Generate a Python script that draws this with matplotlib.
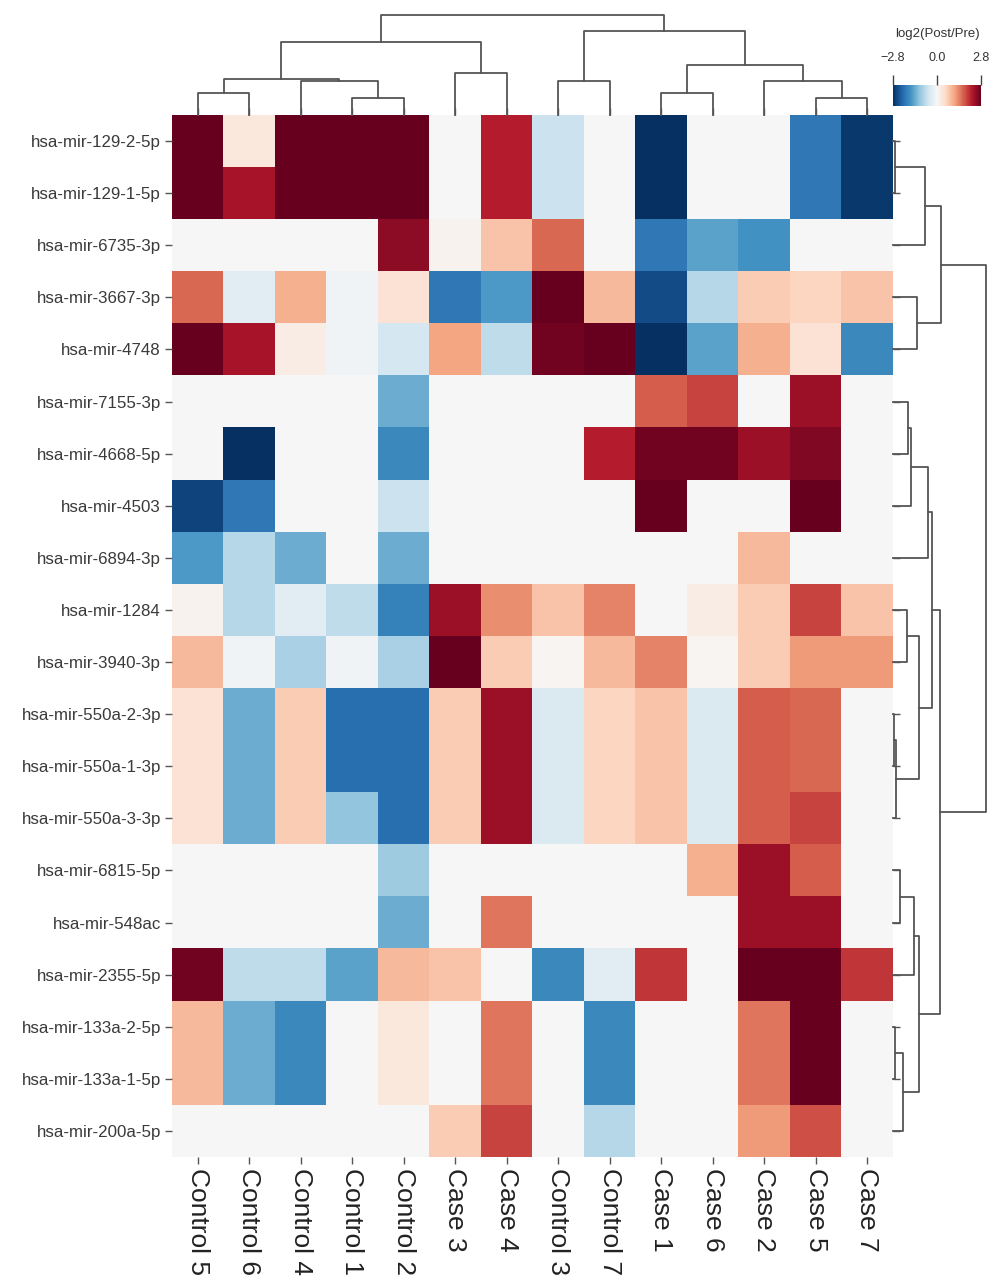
import numpy as np
import matplotlib
matplotlib.use('Agg')
import matplotlib.pyplot as plt

plt.rcParams['font.family'] = ['Liberation Sans', 'DejaVu Sans']

# columns / rows already in clustered order
samples = ['Control 5', 'Control 6', 'Control 4', 'Control 1', 'Control 2',
           'Case 3', 'Case 4', 'Control 3', 'Control 7', 'Case 1', 'Case 6',
           'Case 2', 'Case 5', 'Case 7']

mirnas = ['hsa-mir-129-2-5p', 'hsa-mir-129-1-5p', 'hsa-mir-6735-3p',
          'hsa-mir-3667-3p', 'hsa-mir-4748', 'hsa-mir-7155-3p',
          'hsa-mir-4668-5p', 'hsa-mir-4503', 'hsa-mir-6894-3p', 'hsa-mir-1284',
          'hsa-mir-3940-3p', 'hsa-mir-550a-2-3p', 'hsa-mir-550a-1-3p',
          'hsa-mir-550a-3-3p', 'hsa-mir-6815-5p', 'hsa-mir-548ac',
          'hsa-mir-2355-5p', 'hsa-mir-133a-2-5p', 'hsa-mir-133a-1-5p',
          'hsa-mir-200a-5p']

log2fc = np.array([
    [2.8, 0.3, 2.8, 2.8, 2.8, 0, 2.2, -0.6, 0, -2.8, 0, 0, -2.0, -2.7],
    [2.8, 2.3, 2.8, 2.8, 2.8, 0, 2.2, -0.6, 0, -2.8, 0, 0, -2.0, -2.7],
    [0, 0, 0, 0, 2.5, 0.1, 0.8, 1.6, 0, -2.0, -1.5, -1.7, 0, 0],
    [1.6, -0.3, 1.0, -0.1, 0.4, -2.0, -1.6, 2.8, 0.9, -2.5, -0.8, 0.7, 0.6, 0.8],
    [2.8, 2.3, 0.2, -0.1, -0.5, 1.1, -0.7, 2.7, 2.8, -2.8, -1.5, 1.0, 0.4, -1.8],
    [0, 0, 0, 0, -1.4, 0, 0, 0, 0, 1.7, 1.9, 0, 2.4, 0],
    [0, -2.8, 0, 0, -1.8, 0, 0, 0, 2.2, 2.7, 2.7, 2.4, 2.6, 0],
    [-2.6, -2.0, 0, 0, -0.6, 0, 0, 0, 0, 2.8, 0, 0, 2.8, 0],
    [-1.6, -0.8, -1.4, 0, -1.4, 0, 0, 0, 0, 0, 0, 0.9, 0, 0],
    [0.1, -0.8, -0.3, -0.7, -1.9, 2.4, 1.3, 0.8, 1.4, 0, 0.2, 0.7, 1.9, 0.8],
    [0.9, -0.1, -0.9, -0.1, -0.9, 2.8, 0.7, 0.05, 0.9, 1.4, 0.05, 0.7, 1.2, 1.2],
    [0.4, -1.4, 0.7, -2.1, -2.1, 0.7, 2.4, -0.4, 0.6, 0.8, -0.4, 1.7, 1.6, 0],
    [0.4, -1.4, 0.7, -2.1, -2.1, 0.7, 2.4, -0.4, 0.6, 0.8, -0.4, 1.7, 1.6, 0],
    [0.4, -1.4, 0.7, -1.1, -2.1, 0.7, 2.4, -0.4, 0.6, 0.8, -0.4, 1.7, 1.9, 0],
    [0, 0, 0, 0, -1.0, 0, 0, 0, 0, 0, 1.0, 2.4, 1.7, 0],
    [0, 0, 0, 0, -1.4, 0, 1.5, 0, 0, 0, 0, 2.4, 2.4, 0],
    [2.7, -0.7, -0.7, -1.5, 0.9, 0.8, 0, -1.8, -0.3, 2.0, 0, 2.8, 2.8, 2.0],
    [0.9, -1.4, -1.8, 0, 0.3, 0, 1.5, 0, -1.8, 0, 0, 1.5, 2.8, 0],
    [0.9, -1.4, -1.8, 0, 0.3, 0, 1.5, 0, -1.8, 0, 0, 1.5, 2.8, 0],
    [0, 0, 0, 0, 0, 0.7, 1.9, 0, -0.8, 0, 0, 1.2, 1.8, 0],
])

# linkage-style merges: (child a, child b, height); ids >= n are earlier merges
col_merges = [
    (3, 4, 16.7), (12, 13, 17.3), (0, 1, 22.3), (9, 10, 22.3),
    (2, 14, 34.0), (11, 15, 34.0), (7, 8, 34.3), (16, 18, 35.7),
    (5, 6, 41.7), (17, 19, 50.0), (21, 22, 72.7), (20, 23, 84.0),
    (24, 25, 100.0),
]
row_merges = [
    (11, 12, 1.0), (0, 1, 1.5), (17, 18, 1.5), (20, 13, 3.0),
    (14, 15, 7.0), (22, 19, 10.3), (9, 10, 13.7), (5, 6, 15.0),
    (27, 7, 18.0), (24, 16, 21.3), (3, 4, 24.0), (26, 23, 26.3),
    (29, 25, 26.3), (21, 2, 32.0), (28, 8, 34.7), (34, 31, 38.7),
    (35, 32, 47.0), (33, 30, 48.0), (37, 36, 93.0),
]

vlim = 2.8
W, H = 1000, 1285
line_col = '#555555'


def px_axes(fig, x0, y0, x1, y1):
    return fig.add_axes([x0 / W, 1 - y1 / H, (x1 - x0) / W, (y1 - y0) / H])


def dendro_segments(merges, n):
    pos = {i: float(i) for i in range(n)}
    hgt = {i: 0.0 for i in range(n)}
    segs = []
    for k, (a, b, h) in enumerate(merges):
        segs.append(([pos[a], pos[a], pos[b], pos[b]], [hgt[a], h, h, hgt[b]]))
        pos[n + k] = (pos[a] + pos[b]) / 2
        hgt[n + k] = h
    return segs


fig = plt.figure(figsize=(W / 100, H / 100), dpi=100)

# heatmap
ax = px_axes(fig, 172, 115, 893, 1157)
im = ax.imshow(log2fc, cmap='RdBu_r', vmin=-vlim, vmax=vlim, aspect='auto',
               interpolation='nearest')
ax.set_xticks(range(len(samples)))
ax.set_xticklabels(samples, rotation=-90, fontsize=19, color='#222222')
ax.set_yticks(range(len(mirnas)))
ax.set_yticklabels(mirnas, fontsize=12.2, color='#3a3a3a')
ax.tick_params(axis='both', length=5, width=1, color='#555555', pad=3,
               top=True, right=True)
for s in ax.spines.values():
    s.set_visible(False)

# column dendrogram
axc = px_axes(fig, 172, 15, 893, 115)
for xs, ys in dendro_segments(col_merges, len(samples)):
    axc.plot(xs, ys, color=line_col, lw=1.3, clip_on=False)
axc.set_xlim(-0.5, len(samples) - 0.5)
axc.set_ylim(0, 100)
axc.axis('off')

# row dendrogram
axr = px_axes(fig, 893, 115, 986, 1157)
for ys, xs in dendro_segments(row_merges, len(mirnas)):
    axr.plot(xs, ys, color=line_col, lw=1.3, clip_on=False)
axr.set_xlim(0, 93)
axr.set_ylim(len(mirnas) - 0.5, -0.5)
axr.axis('off')

# colour key
cax = px_axes(fig, 893, 85, 981, 106)
cb = fig.colorbar(im, cax=cax, orientation='horizontal')
cb.outline.set_visible(False)
cb.set_ticks([-vlim, 0, vlim])
cb.set_ticklabels(['\u22122.8', '0.0', '2.8'])
cax.xaxis.set_ticks_position('top')
cax.tick_params(length=7, width=1, color='#444444', labelsize=9, pad=8,
                labelcolor='#333333')
fig.text(937 / W, 1 - 34 / H, 'log2(Post/Pre)', ha='center', va='center',
         fontsize=9.5, color='#333333')

fig.savefig('out.png', dpi=100, facecolor='white')
